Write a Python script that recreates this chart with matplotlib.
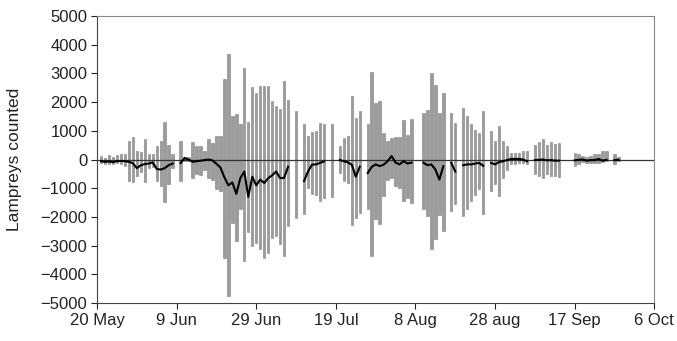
import numpy as np
import matplotlib
matplotlib.use('Agg')
import matplotlib.pyplot as plt

plt.rcParams['font.family'] = ['Liberation Sans', 'DejaVu Sans']

# days counted from 20 May (day 0); None = no count that day
up = [None, 120, 60, 140, 90, 170, 200, 200, 640, 770,
      290, 250, 700, 200, 200, 460, 640, 1290, 520, 200,
      None, 640, 100, 80, 600, 470, 480, 290, 700, 580,
      810, 830, 2810, 3680, 1530, 1590, 1220, 3190, 1300, 2530,
      2320, 2550, 2570, 2570, 2050, 1850, 1750, 2720, 2080, None,
      1700, None, 1220, 810, 950, 1000, 1280, 1220, None, 1220,
      None, 460, 750, 810, 2200, 1450, 1680, None, 1220, 3050,
      1970, 2050, 930, 640, 750, 790, 800, 1380, 870, 1410,
      None, None, 1620, 1740, 3020, 2610, 1620, 2320, None, 1620,
      1280, None, 1800, 1510, 1240, 1040, 930, 1680, None, 990,
      640, 1160, 640, 460, 210, 210, 210, 290, 290, None,
      520, 600, 700, 490, 600, 545, 560, None, None, None,
      220, 180, 120, 100, 120, 200, 200, 290, 290, None,
      200, 80]

down = [None, -120, -140, -140, -170, -120, -140, -230, -750, -800,
        -580, -450, -800, -300, -250, -750, -930, -1490, -870, -300,
        None, -750, -60, -60, -650, -500, -540, -370, -640, -700,
        -1040, -1100, -3420, -4760, -2200, -2840, -1740, -3540, -2540, -3020,
        -2900, -3130, -3420, -3250, -2750, -2650, -2950, -3360, -2330, None,
        -2030, None, -1910, -990, -1200, -1250, -1450, -1330, None, -1300,
        None, -460, -750, -810, -2270, -2030, -1860, None, -1740, -3360,
        -2090, -2260, -1280, -700, -640, -930, -990, -1450, -1330, -1510,
        None, None, -1740, -1970, -3130, -2780, -1950, -2490, None, -1800,
        -1560, None, -1970, -1740, -1450, -1220, -1040, -1890, None, -1100,
        -870, -1280, -640, -350, -170, -140, -120, -120, -170, None,
        -520, -580, -640, -520, -580, -580, -600, None, None, None,
        -230, -170, -100, -120, -130, -110, -110, -100, -60, None,
        -170, -60]

net = [None, -60, -80, -70, -90, -60, -50, -60, -80, -130,
       -300, -200, -160, -140, -100, -330, -350, -300, -200, -140,
       None, -120, 50, 0, -80, -60, -40, -20, 0, -30,
       -150, -280, -620, -900, -800, -1200, -650, -420, -1300, -600,
       -900, -700, -820, -650, -550, -420, -650, -640, -250, None,
       -330, None, -750, -420, -180, -170, -120, -70, None, -80,
       None, -20, -60, -100, -180, -600, -250, None, -470, -260,
       -170, -230, -180, -60, 120, -110, -170, -60, -140, -110,
       None, None, -110, -200, -170, -350, -700, -230, None, -120,
       -420, None, -200, -170, -170, -140, -120, -220, None, -120,
       -170, -90, -60, -20, 20, 20, 20, 0, -60, None,
       -20, -10, 0, -30, -20, -40, -40, None, None, None,
       -30, -10, 0, -40, -20, -20, 20, -40, -10, None,
       -20, -10]

tick_days = [0, 20, 40, 60, 80, 100, 120, 140]
tick_labels = ['20 May', '9 Jun', '29 Jun', '19 Jul', '8 Aug', '28 aug', '17 Sep', '6 Oct']

days = np.arange(len(up))
up = np.array(up, dtype=float)
down = np.array(down, dtype=float)
net = np.array(net, dtype=float)

fig = plt.figure(figsize=(6.77, 3.41), dpi=100)
ax = fig.add_axes([0.1433, 0.1114, 0.8232, 0.8417])

ax.bar(days, up, width=0.6, color='#9c9c9c', edgecolor='#7d7d7d', linewidth=0.4)
ax.bar(days, down, width=0.6, color='#9c9c9c', edgecolor='#7d7d7d', linewidth=0.4)
ax.axhline(0, color='#333333', linewidth=0.9)
ax.plot(days, net, color='black', linewidth=1.5)

ax.set_xlim(0, 140)
ax.set_ylim(-5000, 5000)
ax.set_yticks(np.arange(-5000, 5001, 1000))
ax.set_xticks(tick_days)
ax.set_xticklabels(tick_labels)
ax.tick_params(labelsize=12, colors='#222222', length=4, width=0.8, pad=3)
ax.set_ylabel('Lampreys counted', fontsize=12.5, color='#222222')
ax.yaxis.set_label_coords(-0.135, 0.5)

for s in ['left', 'bottom']:
    ax.spines[s].set_color('#444444')
for s in ['top', 'right']:
    ax.spines[s].set_color('#888888')

fig.savefig('out.png', dpi=100)
